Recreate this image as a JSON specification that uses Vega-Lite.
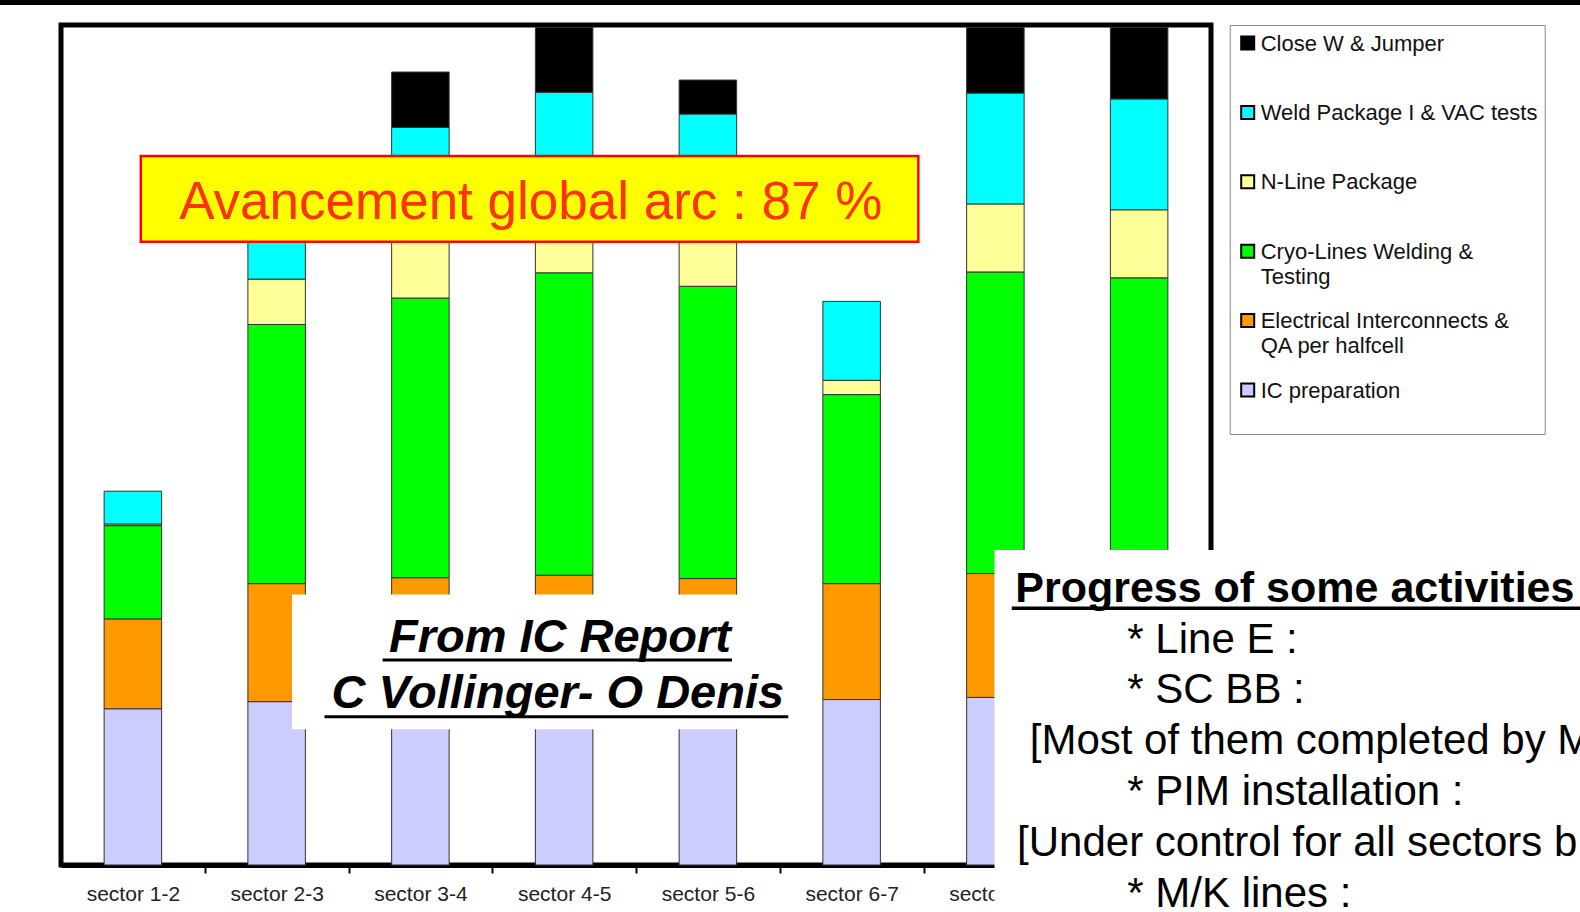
{
  "$schema": "https://vega.github.io/schema/vega-lite/v6.json",
  "width": 1150,
  "height": 840,
  "autosize": "none",
  "padding": {"left": 61, "top": 25, "right": 369, "bottom": 47},
  "background": "white",
  "config": {
    "font": "Liberation Sans",
    "view": {"stroke": "black", "strokeWidth": 5},
    "style": {"guide-label": {"dy": -9.5, "lineHeight": 25.3}}
  },
  "resolve": {"scale": {"x": "independent"}},
  "layer": [
    {
      "data": {"values": [
        {"s": "sector 1-2", "a": "IC preparation", "v": 18.6, "k": 1},
        {"s": "sector 1-2", "a": "Electrical Interconnects & QA per halfcell", "v": 10.7, "k": 2},
        {"s": "sector 1-2", "a": "Cryo-Lines Welding & Testing", "v": 11.1, "k": 3},
        {"s": "sector 1-2", "a": "N-Line Package", "v": 0.2, "k": 4},
        {"s": "sector 1-2", "a": "Weld Package I & VAC tests", "v": 3.9, "k": 5},
        {"s": "sector 2-3", "a": "IC preparation", "v": 19.45, "k": 1},
        {"s": "sector 2-3", "a": "Electrical Interconnects & QA per halfcell", "v": 14.05, "k": 2},
        {"s": "sector 2-3", "a": "Cryo-Lines Welding & Testing", "v": 30.85, "k": 3},
        {"s": "sector 2-3", "a": "N-Line Package", "v": 5.4, "k": 4},
        {"s": "sector 2-3", "a": "Weld Package I & VAC tests", "v": 10.3, "k": 5},
        {"s": "sector 3-4", "a": "IC preparation", "v": 19.5, "k": 1},
        {"s": "sector 3-4", "a": "Electrical Interconnects & QA per halfcell", "v": 14.7, "k": 2},
        {"s": "sector 3-4", "a": "Cryo-Lines Welding & Testing", "v": 33.3, "k": 3},
        {"s": "sector 3-4", "a": "N-Line Package", "v": 10.5, "k": 4},
        {"s": "sector 3-4", "a": "Weld Package I & VAC tests", "v": 9.8, "k": 5},
        {"s": "sector 3-4", "a": "Close W & Jumper", "v": 6.6, "k": 6},
        {"s": "sector 4-5", "a": "IC preparation", "v": 19.6, "k": 1},
        {"s": "sector 4-5", "a": "Electrical Interconnects & QA per halfcell", "v": 14.9, "k": 2},
        {"s": "sector 4-5", "a": "Cryo-Lines Welding & Testing", "v": 36.0, "k": 3},
        {"s": "sector 4-5", "a": "N-Line Package", "v": 8.0, "k": 4},
        {"s": "sector 4-5", "a": "Weld Package I & VAC tests", "v": 13.5, "k": 5},
        {"s": "sector 4-5", "a": "Close W & Jumper", "v": 7.7, "k": 6},
        {"s": "sector 5-6", "a": "IC preparation", "v": 19.5, "k": 1},
        {"s": "sector 5-6", "a": "Electrical Interconnects & QA per halfcell", "v": 14.6, "k": 2},
        {"s": "sector 5-6", "a": "Cryo-Lines Welding & Testing", "v": 34.8, "k": 3},
        {"s": "sector 5-6", "a": "N-Line Package", "v": 8.6, "k": 4},
        {"s": "sector 5-6", "a": "Weld Package I & VAC tests", "v": 11.9, "k": 5},
        {"s": "sector 5-6", "a": "Close W & Jumper", "v": 4.05, "k": 6},
        {"s": "sector 6-7", "a": "IC preparation", "v": 19.7, "k": 1},
        {"s": "sector 6-7", "a": "Electrical Interconnects & QA per halfcell", "v": 13.8, "k": 2},
        {"s": "sector 6-7", "a": "Cryo-Lines Welding & Testing", "v": 22.5, "k": 3},
        {"s": "sector 6-7", "a": "N-Line Package", "v": 1.7, "k": 4},
        {"s": "sector 6-7", "a": "Weld Package I & VAC tests", "v": 9.4, "k": 5},
        {"s": "sector 7-8", "a": "IC preparation", "v": 19.95, "k": 1},
        {"s": "sector 7-8", "a": "Electrical Interconnects & QA per halfcell", "v": 14.75, "k": 2},
        {"s": "sector 7-8", "a": "Cryo-Lines Welding & Testing", "v": 35.9, "k": 3},
        {"s": "sector 7-8", "a": "N-Line Package", "v": 8.1, "k": 4},
        {"s": "sector 7-8", "a": "Weld Package I & VAC tests", "v": 13.2, "k": 5},
        {"s": "sector 7-8", "a": "Close W & Jumper", "v": 7.8, "k": 6},
        {"s": "sector 8-1", "a": "IC preparation", "v": 20.0, "k": 1},
        {"s": "sector 8-1", "a": "Electrical Interconnects & QA per halfcell", "v": 15.0, "k": 2},
        {"s": "sector 8-1", "a": "Cryo-Lines Welding & Testing", "v": 34.9, "k": 3},
        {"s": "sector 8-1", "a": "N-Line Package", "v": 8.1, "k": 4},
        {"s": "sector 8-1", "a": "Weld Package I & VAC tests", "v": 13.2, "k": 5},
        {"s": "sector 8-1", "a": "Close W & Jumper", "v": 8.5, "k": 6}
      ]},
      "mark": {"type": "bar", "stroke": "#333333", "strokeWidth": 1},
      "encoding": {
        "x": {
          "field": "s", "type": "nominal", "sort": null,
          "scale": {"paddingInner": 0.6, "paddingOuter": 0.3},
          "axis": {
            "title": null, "labelAngle": 0, "labelFontSize": 21, "labelColor": "#222222",
            "labelFont": "Liberation Sans",
            "domainColor": "black", "domainWidth": 5,
            "tickColor": "black", "tickWidth": 2, "tickSize": 8,
            "bandPosition": 1, "tickOffset": 43.125, "labelOffset": -43.125,
            "labelPadding": 19.5, "grid": false
          }
        },
        "y": {
          "field": "v", "type": "quantitative", "stack": "zero",
          "scale": {"domain": [0, 100], "nice": false},
          "axis": {
            "title": null, "values": [0, 10, 20, 30, 40, 50, 60, 70, 80, 90, 100],
            "labelExpr": "datum.value + '%'",
            "labelFontSize": 21, "labelColor": "#222222", "labelFont": "Liberation Sans",
            "labelOffset": 9.5,
            "domainColor": "black", "domainWidth": 5,
            "tickColor": "black", "tickWidth": 2, "tickSize": 6, "labelPadding": 12,
            "grid": true, "gridColor": "#222222", "gridWidth": 2
          }
        },
        "color": {
          "field": "a", "type": "nominal",
          "scale": {
            "domain": ["Close W & Jumper", "Weld Package I & VAC tests", "N-Line Package", "Cryo-Lines Welding & Testing", "Electrical Interconnects & QA per halfcell", "IC preparation"],
            "range": ["#000000", "#00FFFF", "#FFFF99", "#00FF00", "#FF9900", "#CCCCFF"]
          },
          "legend": {
            "title": null, "orient": "none", "legendX": 1168.7, "legendY": 0,
            "padding": 7, "rowPadding": 21.4,
            "strokeColor": "#888888", "fillColor": "white",
            "labelFontSize": 22, "labelFont": "Liberation Sans", "labelColor": "#111111",
            "labelLimit": 400, "labelOffset": 2, "labelBaseline": "top",
            "symbolType": "square", "symbolSize": 169, "symbolStrokeColor": "black", "symbolStrokeWidth": 2,
            "labelExpr": "datum.label == 'Cryo-Lines Welding & Testing' ? ['Cryo-Lines Welding &', 'Testing'] : datum.label == 'Electrical Interconnects & QA per halfcell' ? ['Electrical Interconnects &', 'QA per halfcell'] : [datum.label, '']"
          }
        },
        "order": {"field": "k", "type": "quantitative"}
      }
    },
    {
      "data": {"values": [{}]},
      "layer": [
        {
          "mark": {"type": "rect", "fill": "#FFFF00", "stroke": "#FF0000", "strokeWidth": 2.5},
          "encoding": {
            "x": {"datum": 0.555, "type": "quantitative", "scale": {"domain": [0, 8], "nice": false, "zero": false}, "axis": null},
            "x2": {"datum": 5.964},
            "y": {"datum": 84.4, "type": "quantitative", "axis": null},
            "y2": {"datum": 74.2}
          }
        },
        {
          "mark": {"type": "text", "text": "Avancement global arc : 87 %", "fontSize": 53, "font": "Liberation Sans", "fill": "#FF3300", "align": "center", "baseline": "alphabetic"},
          "encoding": {
            "x": {"datum": 3.268, "type": "quantitative", "scale": {"domain": [0, 8], "nice": false, "zero": false}, "axis": null},
            "y": {"datum": 76.87, "type": "quantitative", "axis": null}
          }
        },
        {
          "mark": {"type": "rect", "fill": "white", "strokeWidth": 0},
          "encoding": {
            "x": {"datum": 1.607, "type": "quantitative", "scale": {"domain": [0, 8], "nice": false, "zero": false}, "axis": null},
            "x2": {"datum": 5.24},
            "y": {"datum": 32.2, "type": "quantitative", "axis": null},
            "y2": {"datum": 16.15}
          }
        },
        {
          "mark": {"type": "text", "text": "From IC Report", "fontSize": 47, "font": "Liberation Sans", "fontWeight": "bold", "fontStyle": "italic", "fill": "black", "align": "center", "baseline": "alphabetic"},
          "encoding": {
            "x": {"datum": 3.471, "type": "quantitative", "scale": {"domain": [0, 8], "nice": false, "zero": false}, "axis": null},
            "y": {"datum": 25.32, "type": "quantitative", "axis": null}
          }
        },
        {
          "mark": {"type": "text", "text": "C Vollinger- O Denis", "fontSize": 47, "font": "Liberation Sans", "fontWeight": "bold", "fontStyle": "italic", "fill": "black", "align": "center", "baseline": "alphabetic"},
          "encoding": {
            "x": {"datum": 3.456, "type": "quantitative", "scale": {"domain": [0, 8], "nice": false, "zero": false}, "axis": null},
            "y": {"datum": 18.65, "type": "quantitative", "axis": null}
          }
        },
        {
          "mark": {"type": "rule", "stroke": "black", "strokeWidth": 3},
          "encoding": {
            "x": {"datum": 2.237, "type": "quantitative", "scale": {"domain": [0, 8], "nice": false, "zero": false}, "axis": null},
            "x2": {"datum": 4.668},
            "y": {"datum": 24.4, "type": "quantitative", "axis": null}
          }
        },
        {
          "mark": {"type": "rule", "stroke": "black", "strokeWidth": 3},
          "encoding": {
            "x": {"datum": 1.833, "type": "quantitative", "scale": {"domain": [0, 8], "nice": false, "zero": false}, "axis": null},
            "x2": {"datum": 5.059},
            "y": {"datum": 17.65, "type": "quantitative", "axis": null}
          }
        },
        {
          "mark": {"type": "rect", "fill": "white", "strokeWidth": 0},
          "encoding": {
            "x": {"datum": 6.494, "type": "quantitative", "scale": {"domain": [0, 8], "nice": false, "zero": false}, "axis": null},
            "x2": {"datum": 10.8},
            "y": {"datum": 37.5, "type": "quantitative", "axis": null},
            "y2": {"datum": -7}
          }
        },
        {
          "mark": {"type": "text", "text": "Progress of some activities :", "fontSize": 43, "font": "Liberation Sans", "fontWeight": "bold", "fill": "black", "align": "left", "baseline": "alphabetic"},
          "encoding": {
            "x": {"datum": 6.638, "type": "quantitative", "scale": {"domain": [0, 8], "nice": false, "zero": false}, "axis": null},
            "y": {"datum": 31.35, "type": "quantitative", "axis": null}
          }
        },
        {
          "mark": {"type": "rule", "stroke": "black", "strokeWidth": 3.5},
          "encoding": {
            "x": {"datum": 6.614, "type": "quantitative", "scale": {"domain": [0, 8], "nice": false, "zero": false}, "axis": null},
            "x2": {"datum": 10.8},
            "y": {"datum": 30.56, "type": "quantitative", "axis": null}
          }
        },
        {
          "mark": {"type": "text", "text": "* Line E :", "fontSize": 42, "font": "Liberation Sans", "fill": "black", "align": "left", "baseline": "alphabetic"},
          "encoding": {
            "x": {"datum": 7.418, "type": "quantitative", "scale": {"domain": [0, 8], "nice": false, "zero": false}, "axis": null},
            "y": {"datum": 25.27, "type": "quantitative", "axis": null}
          }
        },
        {
          "mark": {"type": "text", "text": "* SC BB :", "fontSize": 42, "font": "Liberation Sans", "fill": "black", "align": "left", "baseline": "alphabetic"},
          "encoding": {
            "x": {"datum": 7.418, "type": "quantitative", "scale": {"domain": [0, 8], "nice": false, "zero": false}, "axis": null},
            "y": {"datum": 19.23, "type": "quantitative", "axis": null}
          }
        },
        {
          "mark": {"type": "text", "text": "[Most of them completed by M", "fontSize": 42, "font": "Liberation Sans", "fill": "black", "align": "left", "baseline": "alphabetic"},
          "encoding": {
            "x": {"datum": 6.739, "type": "quantitative", "scale": {"domain": [0, 8], "nice": false, "zero": false}, "axis": null},
            "y": {"datum": 13.18, "type": "quantitative", "axis": null}
          }
        },
        {
          "mark": {"type": "text", "text": "* PIM installation :", "fontSize": 42, "font": "Liberation Sans", "fill": "black", "align": "left", "baseline": "alphabetic"},
          "encoding": {
            "x": {"datum": 7.418, "type": "quantitative", "scale": {"domain": [0, 8], "nice": false, "zero": false}, "axis": null},
            "y": {"datum": 7.13, "type": "quantitative", "axis": null}
          }
        },
        {
          "mark": {"type": "text", "text": "[Under control for all sectors b", "fontSize": 42, "font": "Liberation Sans", "fill": "black", "align": "left", "baseline": "alphabetic"},
          "encoding": {
            "x": {"datum": 6.651, "type": "quantitative", "scale": {"domain": [0, 8], "nice": false, "zero": false}, "axis": null},
            "y": {"datum": 1.08, "type": "quantitative", "axis": null}
          }
        },
        {
          "mark": {"type": "text", "text": "* M/K lines :", "fontSize": 42, "font": "Liberation Sans", "fill": "black", "align": "left", "baseline": "alphabetic"},
          "encoding": {
            "x": {"datum": 7.418, "type": "quantitative", "scale": {"domain": [0, 8], "nice": false, "zero": false}, "axis": null},
            "y": {"datum": -4.96, "type": "quantitative", "axis": null}
          }
        },
        {
          "mark": {"type": "rule", "stroke": "black", "strokeWidth": 5},
          "encoding": {
            "x": {"datum": -0.6, "type": "quantitative", "scale": {"domain": [0, 8], "nice": false, "zero": false}, "axis": null},
            "x2": {"datum": 10.8},
            "y": {"datum": 102.68, "type": "quantitative", "axis": null}
          }
        }
      ]
    }
  ]
}
